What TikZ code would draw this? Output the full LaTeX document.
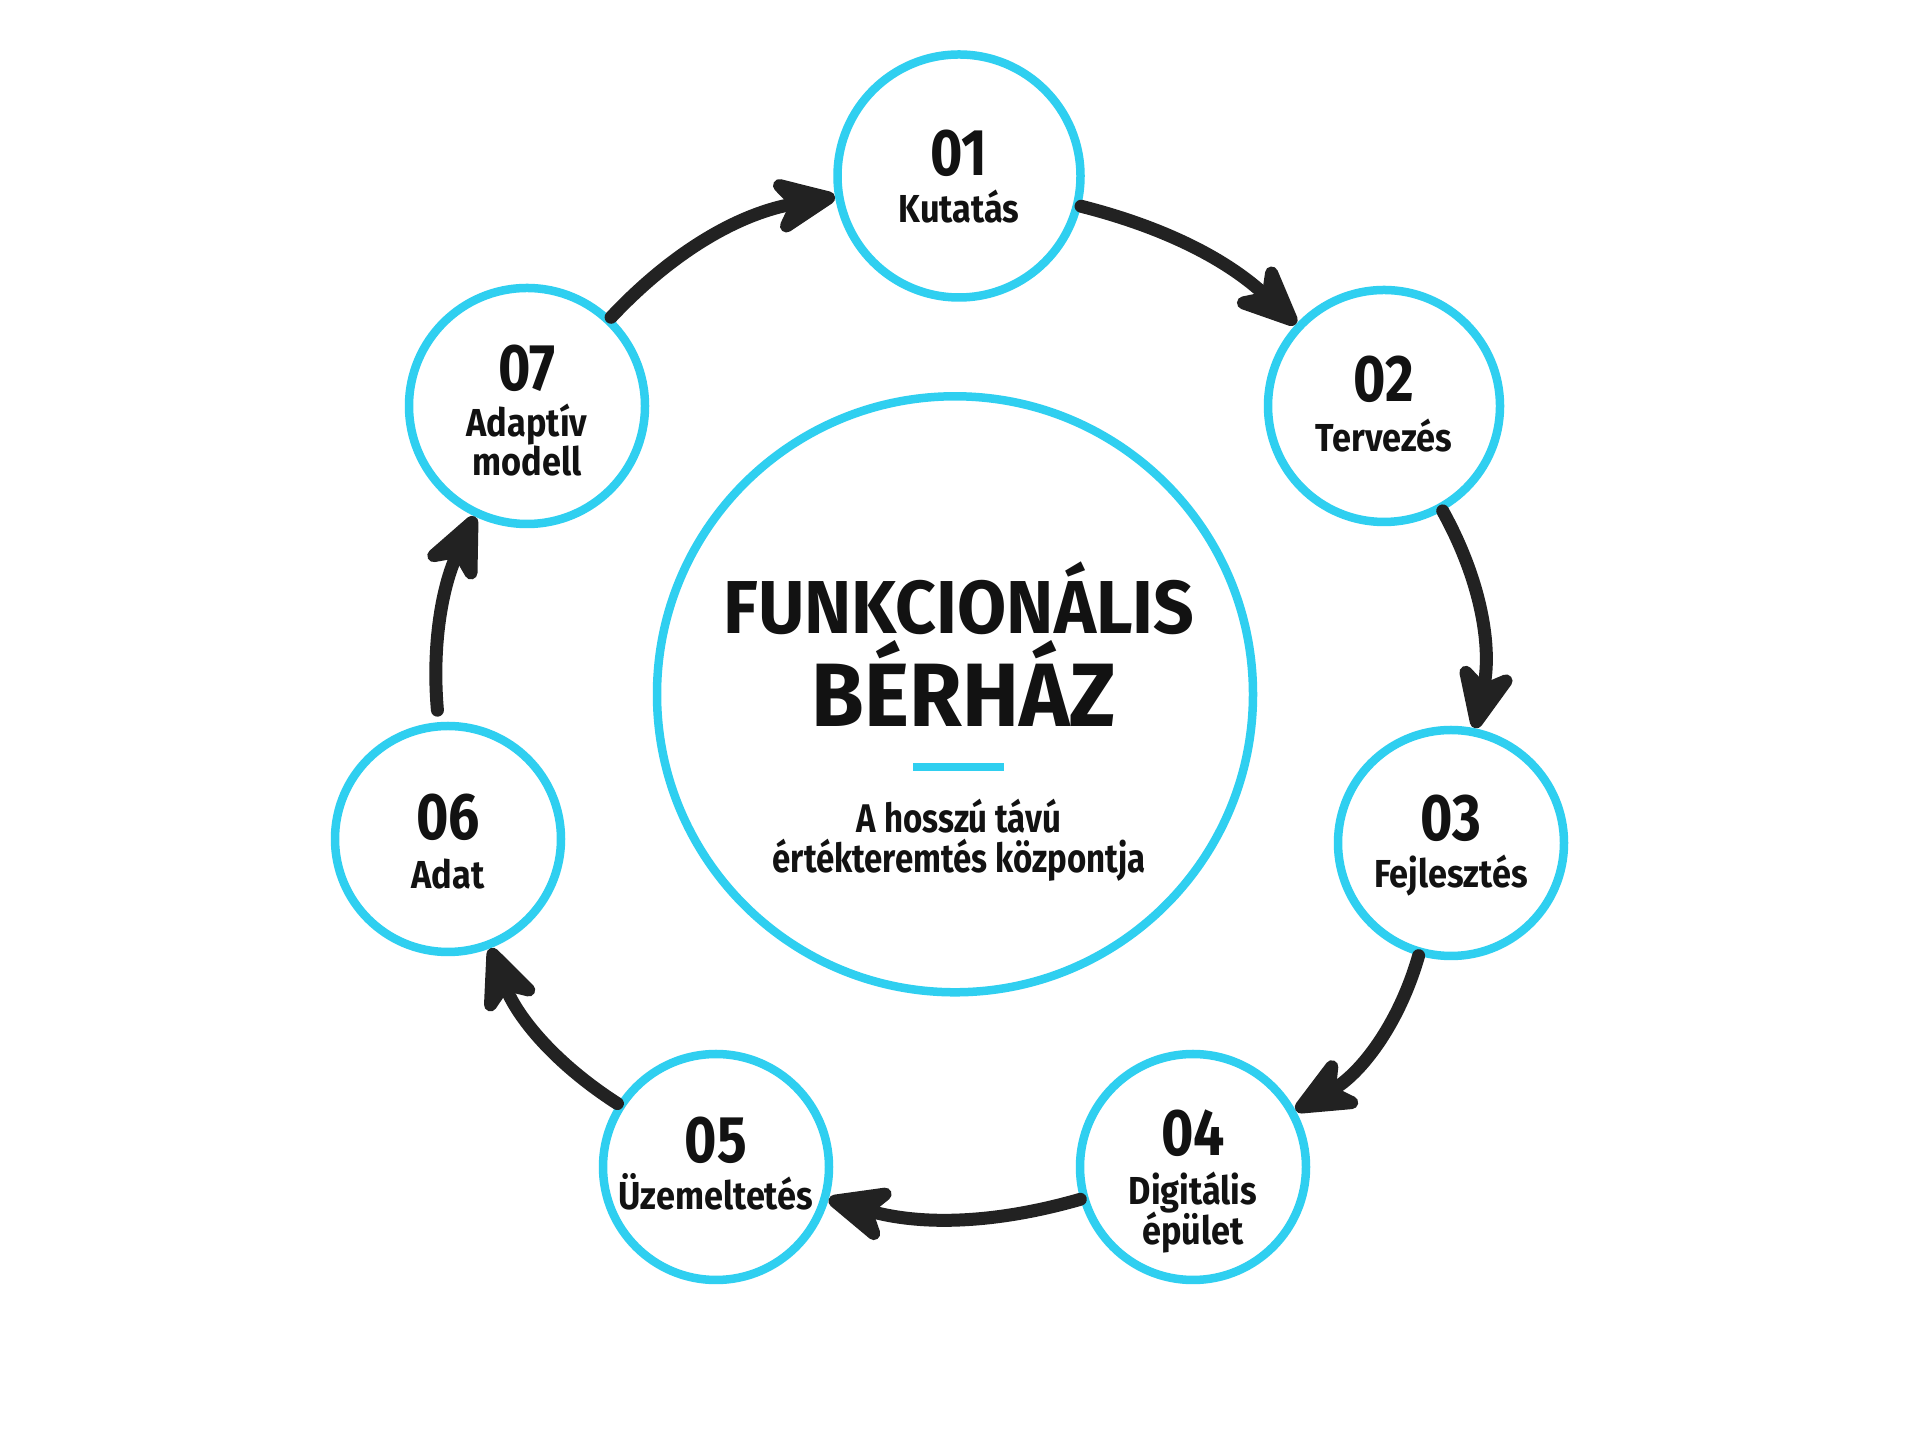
\documentclass[tikz,border=0pt]{standalone}
\usepackage{fontspec}
\setmainfont{Fira Sans}
\newfontfamily\titlef{Fira Sans}[FakeStretch=0.95]
\newfontfamily\numf{Fira Sans}[FakeStretch=0.84]
\newfontfamily\labf{Fira Sans}[FakeStretch=0.88]
\newfontfamily\subf{Fira Sans}[FakeStretch=0.825]
\usetikzlibrary{arrows.meta}
\definecolor{ringcyan}{RGB}{47,207,240}
\definecolor{ink}{RGB}{18,18,18}
\definecolor{arrowink}{RGB}{34,34,34}
\begin{document}
\begin{tikzpicture}[x=1pt,y=1pt,
  ring/.style={circle,draw=ringcyan,line width=8.5pt,minimum size=#1,inner sep=0pt},
  ring/.default=230pt,
  num/.style={anchor=base,text=ink,inner sep=0pt,font=\numf\bfseries\fontsize{66}{66}\selectfont},
  lab/.style={anchor=base,text=ink,inner sep=0pt,font=\labf\bfseries\fontsize{39}{39}\selectfont},
  sub/.style={anchor=base,text=ink,inner sep=0pt,font=\subf\bfseries\fontsize{40}{40}\selectfont},
  flow/.style={draw=arrowink,line width=13pt,line cap=round,looseness=0.95,
    -{Stealth[length=80pt,width=70pt,inset=24pt,round]}}
]
\fill[white] (0,0) rectangle (1920,1440);
\path[use as bounding box] (0,0) rectangle (1920,1440);

% hub
\node[ring=596pt] (hub) at (955,745.7) {};
\node[anchor=base,text=ink,inner sep=0pt,font=\titlef\bfseries\fontsize{75}{75}\selectfont] (t1) at (959,806) {FUNKCIONÁLIS};
\node[anchor=base,text=ink,inner sep=0pt,font=\titlef\bfseries\fontsize{90}{90}\selectfont] (t2) at (964,713) {BÉRHÁZ};
\coordinate (ruleL) at (913,673);
\coordinate (ruleR) at (1004,673);
\draw[ringcyan,line width=8pt] (ruleL) -- (ruleR);
\node[sub] (s1) at (959,607) {A hosszú távú};
\node[sub] (s2) at (959,567) {értékteremtés központja};

% stages
\node[ring=243pt] (n1) at (959,1264) {};
\node[num] (n1num) at (959,1264) {01};
\node[lab] (n1lab) at (959,1217) {Kutatás};

\node[ring=232pt] (n2) at (1384,1034) {};
\node[num] (n2num) at (1384,1038) {02};
\node[lab] (n2lab) at (1384,988) {Tervezés};

\node[ring=226pt] (n3) at (1451,597) {};
\node[num] (n3num) at (1451,599) {03};
\node[lab] (n3lab) at (1451,552) {Fejlesztés};

\node[ring=226pt] (n4) at (1193,273) {};
\node[num] (n4num) at (1193,284) {04};
\node[lab] (n4lab) at (1193,235) {Digitális};
\node[lab] (n4lab2) at (1193,195) {épület};

\node[ring=226pt] (n5) at (716,273) {};
\node[num] (n5num) at (716,277) {05};
\node[lab] (n5lab) at (716,230) {Üzemeltetés};

\node[ring=226pt] (n6) at (448,601) {};
\node[num] (n6num) at (448,600) {06};
\node[lab] (n6lab) at (448,551) {Adat};

\node[ring=236pt] (n7) at (527,1034) {};
\node[num] (n7num) at (527,1049) {07};
\node[lab] (n7lab) at (527,1003) {Adaptív};
\node[lab] (n7lab2) at (527,964) {modell};

% flow arrows
\draw[flow] (n1) to[bend left=14.5] (n2);
\draw[flow] (n2) to[bend left=20.5] (n3);
\draw[flow] (n3) to[bend left=22.5] (n4);
\draw[flow] (n4) to[bend left=16] (n5);
\draw[flow] (n5) to[bend left=18] (n6);
\draw[flow,shorten <=12pt] (n6) to[bend left=15] (n7);
\draw[flow] (n7) to[bend left=18.5] (n1);
\end{tikzpicture}
\end{document}
